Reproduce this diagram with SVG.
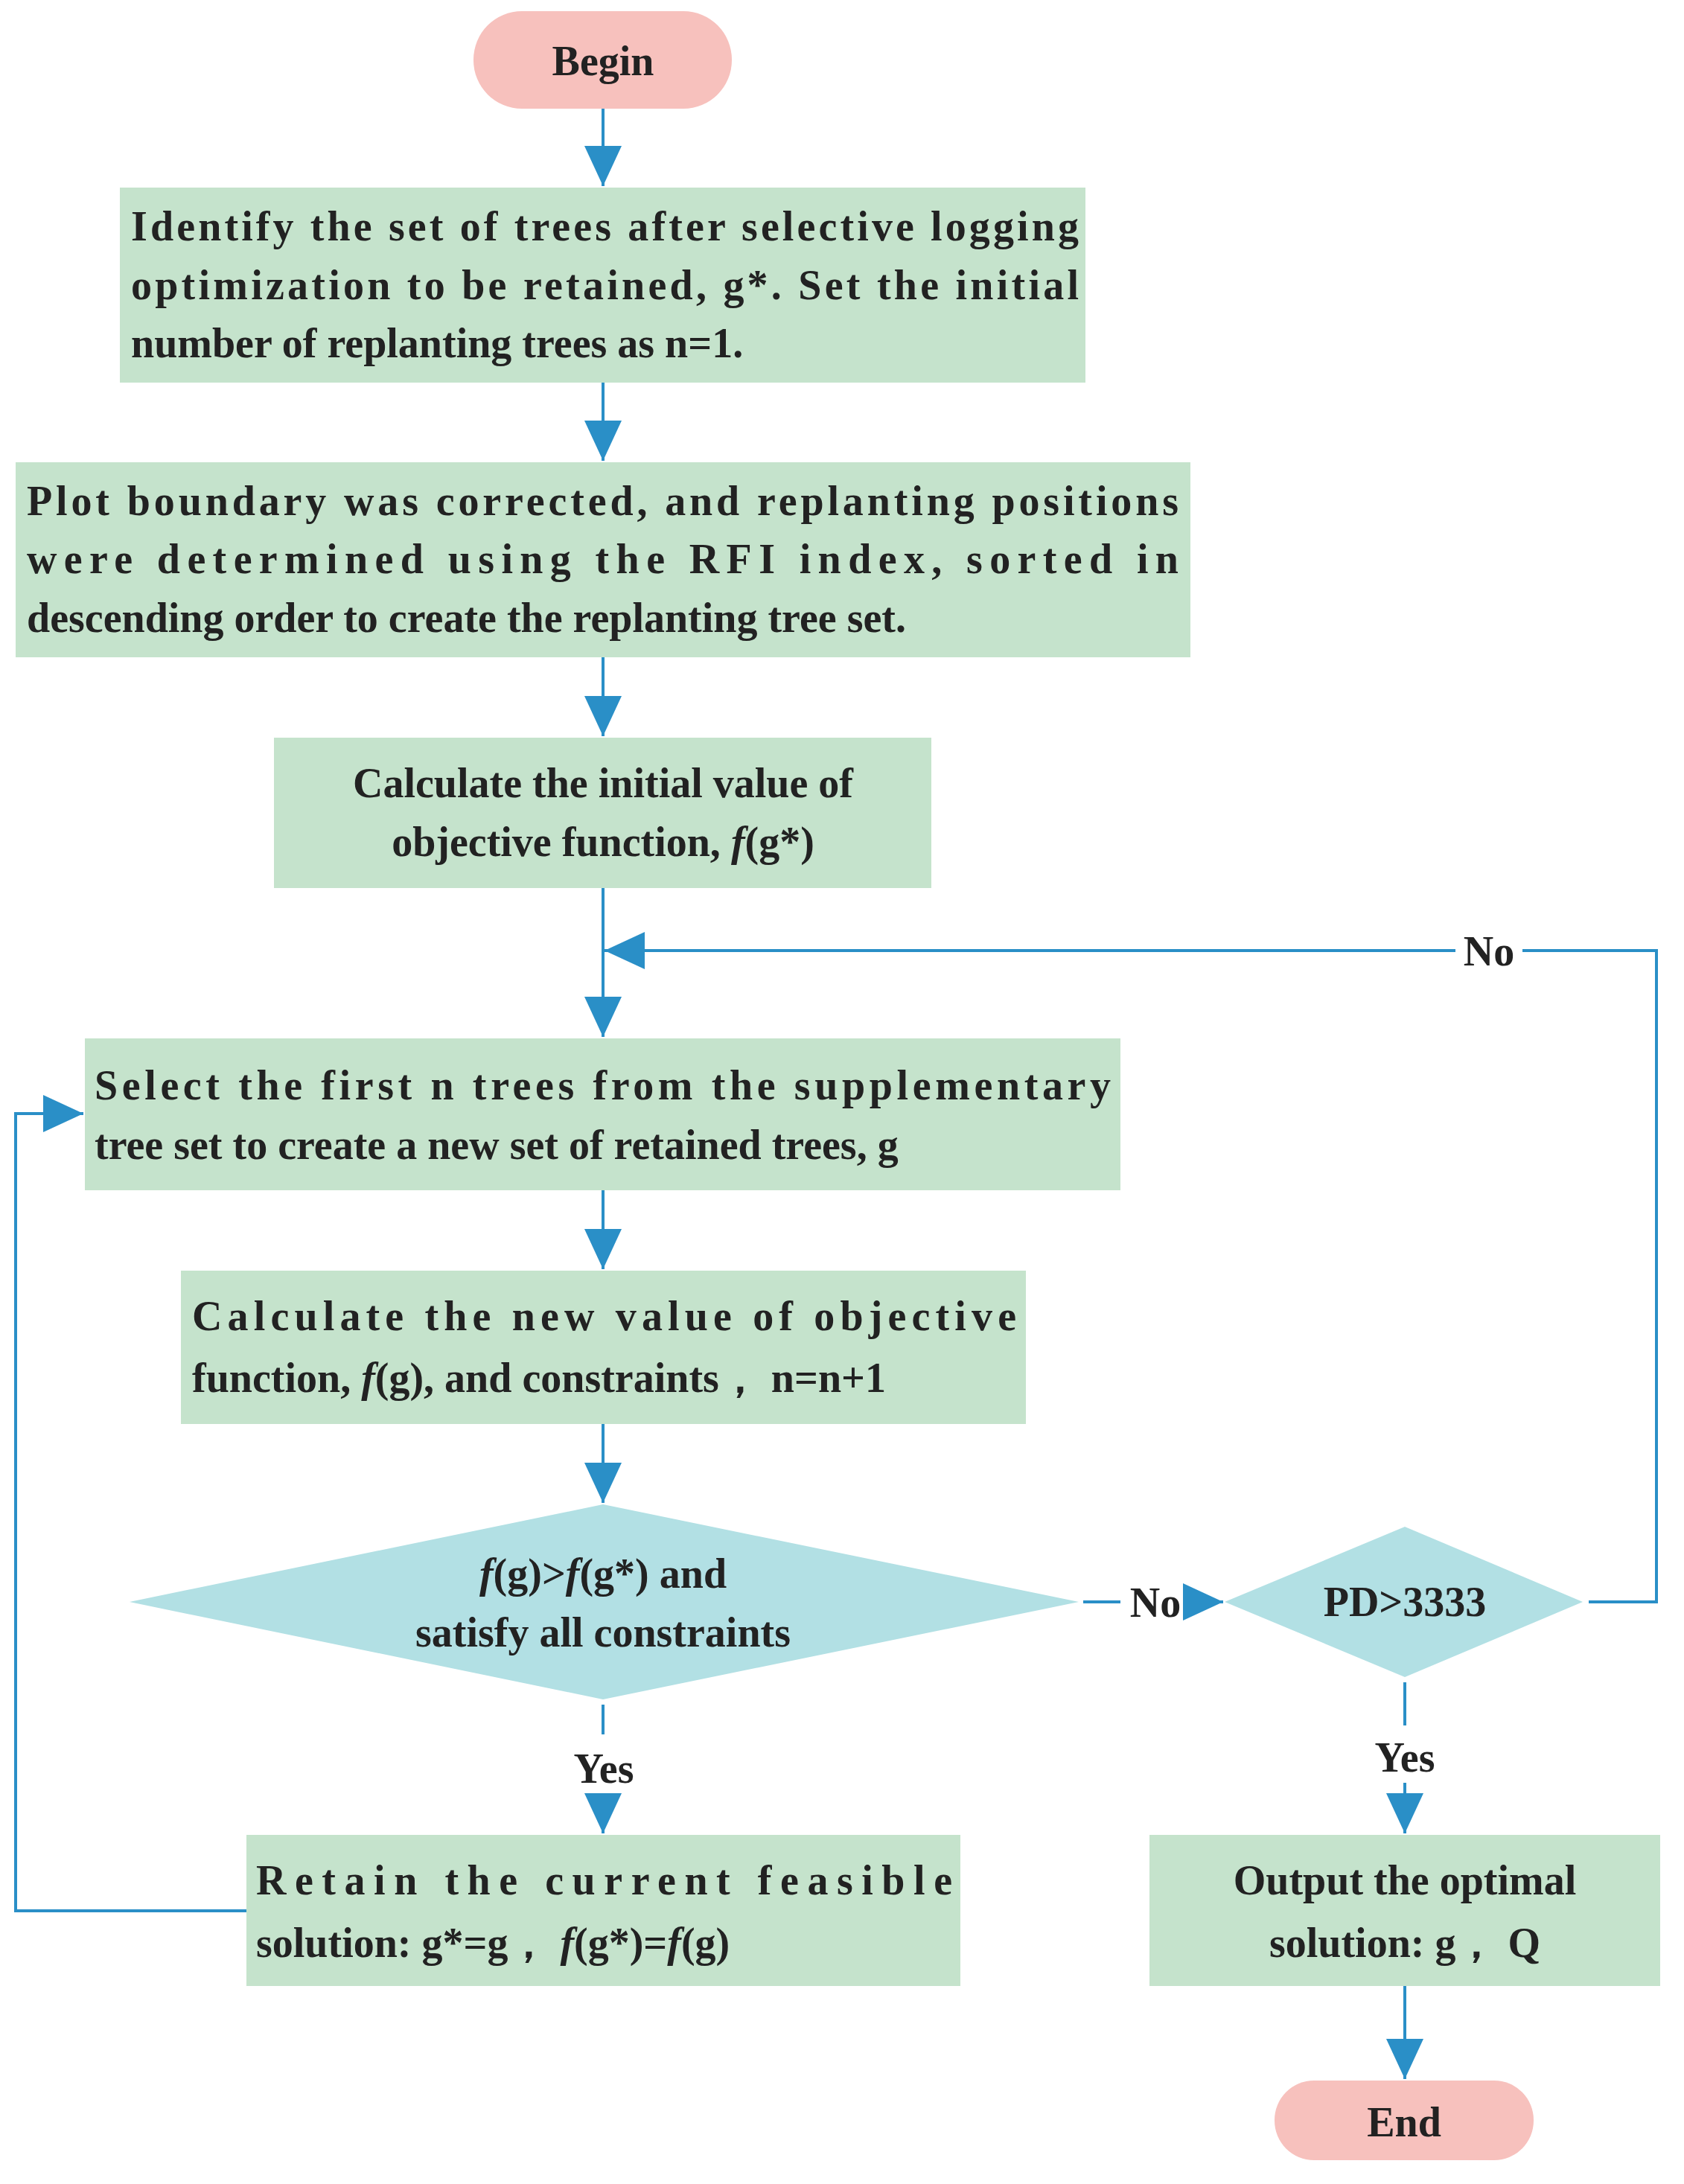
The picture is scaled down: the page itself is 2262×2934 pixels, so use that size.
<svg xmlns="http://www.w3.org/2000/svg" width="2262" height="2934" viewBox="0 0 2262 2934">
<style>
.b{fill:#c5e3cc}.d{fill:#b2e0e4}.t{fill:#f7c1bd}
text{font-family:"Liberation Serif","Times New Roman",serif;font-weight:bold;font-size:56px;fill:#222}
.c{stroke:#2a8fc7;stroke-width:4;fill:none}
</style>
<defs><marker id="a" markerUnits="userSpaceOnUse" markerWidth="56" markerHeight="50" refX="54" refY="25" orient="auto"><path d="M0,0 L54,25 L0,50 Z" fill="#2a8fc7"/></marker></defs>
<rect width="2262" height="2934" fill="#fff"/>
<g id="begin"><rect class="t" x="636" y="15" width="347" height="131" rx="65"/><text x="810" y="101" text-anchor="middle">Begin</text></g>
<g id="n1"><rect class="b" x="161" y="252" width="1297" height="262"/>
<text x="176" y="323" textLength="1273" lengthAdjust="spacing">Identify the set of trees after selective logging</text>
<text x="176" y="402" textLength="1273" lengthAdjust="spacing">optimization to be retained, g*. Set the initial</text>
<text x="176" y="480">number of replanting trees as n=1.</text></g>
<g id="n2"><rect class="b" x="21" y="621" width="1578" height="262"/>
<text x="36" y="692" textLength="1547" lengthAdjust="spacing">Plot boundary was corrected, and replanting positions</text>
<text x="36" y="770" textLength="1547" lengthAdjust="spacing">were determined using the RFI index, sorted in</text>
<text x="36" y="849">descending order to create the replanting tree set.</text></g>
<g id="n3"><rect class="b" x="368" y="991" width="883" height="202"/>
<text x="810" y="1071" text-anchor="middle">Calculate the initial value of</text>
<text x="810" y="1150" text-anchor="middle">objective function, <tspan font-style="italic">f</tspan>(g*)</text></g>
<g id="n4"><rect class="b" x="114" y="1395" width="1391" height="204"/>
<text x="127" y="1477" textLength="1365" lengthAdjust="spacing">Select the first  n trees from the supplementary</text>
<text x="127" y="1557">tree set to create a new set of retained trees, g</text></g>
<g id="n5"><rect class="b" x="243" y="1707" width="1135" height="206"/>
<text x="258" y="1787" textLength="1107" lengthAdjust="spacing">Calculate the new value of objective</text>
<text x="258" y="1870">function, <tspan font-style="italic">f</tspan>(g), and constraints， n=n+1</text></g>
<g id="d1"><polygon class="d" points="174,2152 810,2021 1449,2152 810,2283"/>
<text x="810" y="2133" text-anchor="middle"><tspan font-style="italic">f</tspan>(g)&gt;<tspan font-style="italic">f</tspan>(g*) and</text>
<text x="810" y="2212" text-anchor="middle">satisfy all constraints</text></g>
<g id="d2"><polygon class="d" points="1645,2152 1887,2051 2126,2152 1887,2253"/>
<text x="1887" y="2171" text-anchor="middle">PD&gt;3333</text></g>
<g id="n6"><rect class="b" x="331" y="2465" width="959" height="203"/>
<text x="344" y="2545" textLength="935" lengthAdjust="spacing">Retain the current feasible</text>
<text x="344" y="2629">solution: g*=g， <tspan font-style="italic">f</tspan>(g*)=<tspan font-style="italic">f</tspan>(g)</text></g>
<g id="n7"><rect class="b" x="1544" y="2465" width="686" height="203"/>
<text x="1887" y="2545" text-anchor="middle">Output the optimal</text>
<text x="1887" y="2629" text-anchor="middle">solution: g， Q</text></g>
<g id="end"><rect class="t" x="1712" y="2795" width="348" height="107" rx="53"/><text x="1886" y="2870" text-anchor="middle">End</text></g>
<g id="connectors">
<path class="c" d="M810,146V250" marker-end="url(#a)"/>
<path class="c" d="M810,514V619" marker-end="url(#a)"/>
<path class="c" d="M810,883V989" marker-end="url(#a)"/>
<path class="c" d="M810,1193V1393" marker-end="url(#a)"/>
<path class="c" d="M810,1599V1705" marker-end="url(#a)"/>
<path class="c" d="M810,1913V2019" marker-end="url(#a)"/>
<path class="c" d="M810,2290V2330"/>
<path class="c" d="M810,2410V2463" marker-end="url(#a)"/>
<path class="c" d="M1455,2152H1505"/>
<path class="c" d="M1600,2152H1643" marker-end="url(#a)"/>
<path class="c" d="M2134,2152H2225V1277H2045"/>
<path class="c" d="M1955,1277H812" marker-end="url(#a)"/>
<path class="c" d="M1887,2260V2318"/>
<path class="c" d="M1887,2395V2463" marker-end="url(#a)"/>
<path class="c" d="M331,2567H21V1496H112" marker-end="url(#a)"/>
<path class="c" d="M1887,2668V2793" marker-end="url(#a)"/>
<text x="1552" y="2172" text-anchor="middle">No</text>
<text x="2000" y="1297" text-anchor="middle">No</text>
<text x="811" y="2395" text-anchor="middle">Yes</text>
<text x="1887" y="2380" text-anchor="middle">Yes</text>
</g>
</svg>
